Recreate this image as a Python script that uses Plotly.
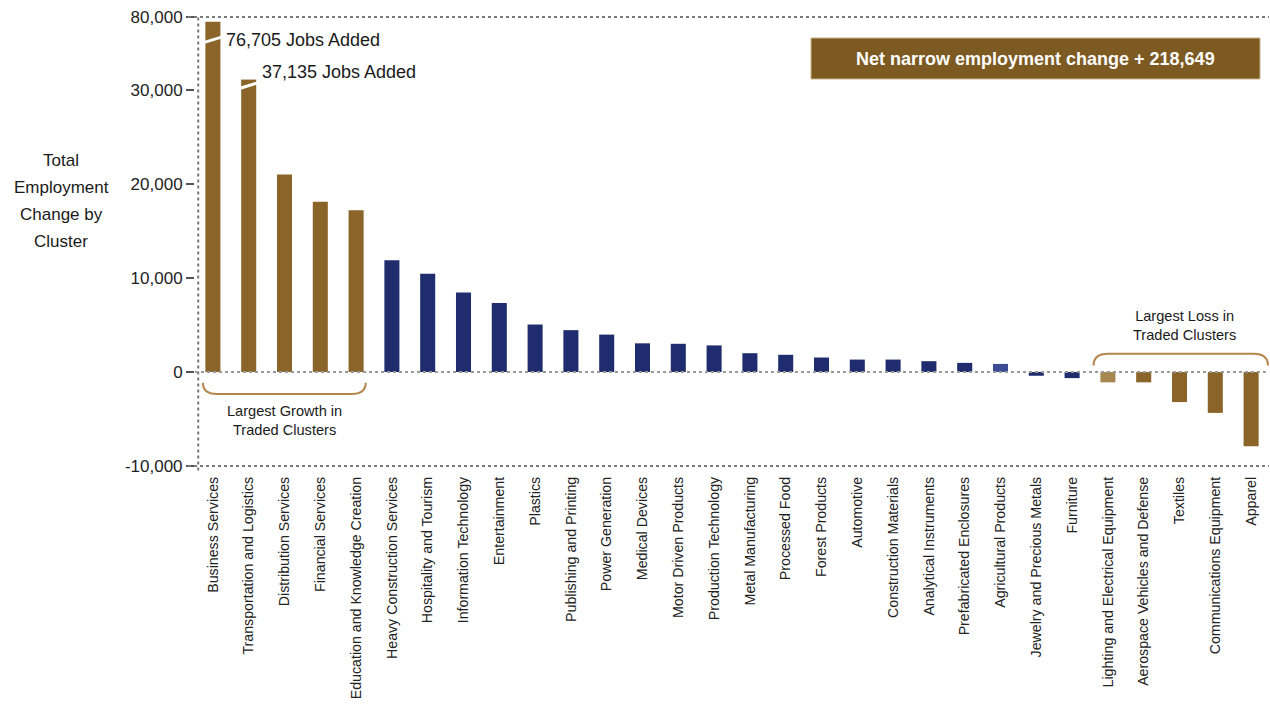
import plotly.graph_objects as go

# Traded clusters, ordered by total employment change
clusters = [
    "Business Services", "Transportation and Logistics", "Distribution Services",
    "Financial Services", "Education and Knowledge Creation",
    "Heavy Construction Services", "Hospitality and Tourism", "Information Technology",
    "Entertainment", "Plastics", "Publishing and Printing", "Power Generation",
    "Medical Devices", "Motor Driven Products", "Production Technology",
    "Metal Manufacturing", "Processed Food", "Forest Products", "Automotive",
    "Construction Materials", "Analytical Instruments", "Prefabricated Enclosures",
    "Agricultural Products", "Jewelry and Precious Metals", "Furniture",
    "Lighting and Electrical Equipment", "Aerospace Vehicles and Defense", "Textiles",
    "Communications Equipment", "Apparel",
]
employment_change = [
    76705, 37135, 21000, 18100, 17200,
    11900, 10450, 8450, 7350, 5050, 4450, 3980,
    3050, 3000, 2830, 2000, 1830, 1540, 1320,
    1320, 1150, 970, 860, -400, -650,
    -1100, -1100, -3200, -4350, -7900,
]
net_change = 218649

lower_ticks = [-10000, 0, 10000, 20000, 30000]
upper_ticks = [80000]

BROWN = "#8a6429"
BROWN_LIGHT = "#a8864f"
BLUE = "#1f2c6d"
BLUE_LIGHT = "#3b4b94"

n = len(clusters)
idx = list(range(n))
colors = []
for i in idx:
    if i < 5 or i >= n - 5:
        colors.append(BROWN_LIGHT if i == n - 5 else BROWN)
    else:
        colors.append(BLUE_LIGHT if i == n - 8 else BLUE)

W, H = 1270, 707
ML, MR, MT, MB = 195, 1, 17, 241
plot_w = W - ML - MR
plot_h = H - MT - MB
split = 376 / plot_h  # lower panel share of the plot height

fig = go.Figure()
for ax in ("y", "y2"):
    fig.add_trace(go.Bar(
        x=idx, y=employment_change, yaxis=ax, width=0.42,
        marker=dict(color=colors, line=dict(width=0)),
        hoverinfo="skip", showlegend=False,
    ))

FONT = "Liberation Sans, Arial, sans-serif"
tick_font = dict(family=FONT, size=17, color="#222")

fig.update_layout(
    width=W, height=H,
    margin=dict(l=ML, r=MR, t=MT, b=MB, autoexpand=False),
    paper_bgcolor="white", plot_bgcolor="white",
    bargap=0.58,
    xaxis=dict(
        range=[-0.5, n - 0.5], tickmode="array", tickvals=idx, ticktext=clusters,
        tickangle=-90, ticks="", showline=False, showgrid=False, zeroline=False,
        ticklabelstandoff=7, automargin=False,
        tickfont=dict(family=FONT, size=14.2, color="#222"),
        anchor="y",
    ),
    yaxis=dict(
        domain=[0, split], range=[-10000, 30000],
        tickmode="array", tickvals=lower_ticks,
        ticktext=[f"{v:,}" for v in lower_ticks],
        ticks="outside", ticklen=8, tickwidth=1.5, tickcolor="#555",
        showgrid=False, zeroline=False, showline=False, automargin=False,
        tickfont=tick_font,
    ),
    yaxis2=dict(
        domain=[split, 1], range=[30000, 80000],
        tickmode="array", tickvals=upper_ticks,
        ticktext=[f"{v:,}" for v in upper_ticks],
        ticks="outside", ticklen=8, tickwidth=1.5, tickcolor="#555",
        showgrid=False, zeroline=False, showline=False, automargin=False,
        tickfont=tick_font, anchor="x",
    ),
)

dot = dict(color="#7a7a7a", width=2, dash="dot")
left_ext = -7 / plot_w
shapes = [
    # frame lines: top, bottom, vertical axis, zero line
    dict(type="line", xref="paper", yref="paper", x0=left_ext, x1=1, y0=1, y1=1, line=dot),
    dict(type="line", xref="paper", yref="paper", x0=left_ext, x1=1, y0=0, y1=0, line=dot),
    dict(type="line", xref="paper", yref="paper", x0=0.003, x1=0.003, y0=-0.01, y1=1, line=dot),
    dict(type="line", xref="paper", yref="y", x0=0, x1=1, y0=0, y1=0,
         line=dict(color="#9a9a9a", width=2, dash="dot")),
    # axis-break slashes on the two tallest bars
    dict(type="line", xref="x", yref="y2", x0=-0.24, x1=0.24, y0=62600, y1=66200,
         line=dict(color="white", width=3)),
    dict(type="line", xref="x", yref="y2", x0=0.76, x1=1.24, y0=31200, y1=34800,
         line=dict(color="white", width=3)),
    # brackets
    dict(type="path", xref="x", yref="y",
         path="M -0.28,-1150 Q -0.28,-2350 0.12,-2350 L 3.87,-2350 Q 4.27,-2350 4.27,-1150",
         line=dict(color="#b5874c", width=2)),
    dict(type="path", xref="x", yref="y",
         path="M 24.6,700 Q 24.6,1950 25.0,1950 L 29.07,1950 Q 29.47,1950 29.47,700",
         line=dict(color="#b5874c", width=2)),
    # net change box
    dict(type="rect", xref="paper", yref="paper",
         x0=(811 - ML) / plot_w, x1=(1260 - ML) / plot_w,
         y0=(H - MB - 79) / plot_h, y1=(H - MB - 38) / plot_h,
         fillcolor="#7d5a22", line=dict(color="#c9b48c", width=1)),
]
fig.update_layout(shapes=shapes)

label_font = dict(family=FONT, size=18, color="#1a1a1a")
small_font = dict(family=FONT, size=14.6, color="#1a1a1a")
annotations = [
    dict(x=0, y=employment_change[0], xref="x", yref="y2",
         text=f"{employment_change[0]:,} Jobs Added", showarrow=False,
         xanchor="left", yanchor="middle", xshift=11, yshift=-18, font=label_font),
    dict(x=1, y=employment_change[1], xref="x", yref="y2",
         text=f"{employment_change[1]:,} Jobs Added", showarrow=False,
         xanchor="left", yanchor="middle", xshift=11, yshift=8, font=label_font),
    dict(x=(1035 - ML) / plot_w, y=(H - MB - 58.5) / plot_h, xref="paper", yref="paper",
         text=f"<b>Net narrow employment change + {net_change:,}</b>", showarrow=False,
         xanchor="center", yanchor="middle",
         font=dict(family=FONT, size=18, color="white")),
    dict(x=2.0, y=-5150, xref="x", yref="y",
         text="Largest Growth in<br>Traded Clusters", showarrow=False,
         xanchor="center", yanchor="middle", font=small_font),
    dict(x=27.15, y=5000, xref="x", yref="y",
         text="Largest Loss in<br>Traded Clusters", showarrow=False,
         xanchor="center", yanchor="middle", font=small_font),
]
# y-axis title, one line per row
for text, ypix in [("Total", 161), ("Employment", 187), ("Change by", 214), ("Cluster", 241)]:
    annotations.append(dict(
        x=(61 - ML) / plot_w, y=(H - MB - ypix) / plot_h, xref="paper", yref="paper",
        text=text, showarrow=False, xanchor="center", yanchor="middle",
        font=dict(family=FONT, size=17, color="#1a1a1a"),
    ))
fig.update_layout(annotations=annotations)

fig.write_html("out.html")
